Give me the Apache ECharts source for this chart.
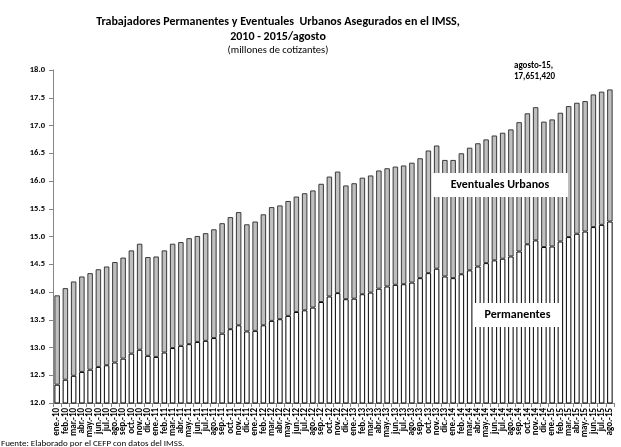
<!DOCTYPE html>
<html>
<head>
<meta charset="utf-8">
<script src="https://cdn.jsdelivr.net/npm/echarts@6/dist/echarts.min.js"></script>
<style>
  html, body { margin: 0; padding: 0; background: #fff; }
  #chart { width: 621px; height: 447px; }
</style>
</head>
<body>
<div id="chart"></div>
<script>
// meses ene-10 .. ago-15
const months = [
  'ene.-10', 'feb.-10', 'mar.-10', 'abr.-10', 'may.-10', 'jun.-10', 'jul.-10', 'ago.-10', 'sep.-10', 'oct.-10', 'nov.-10', 'dic.-10',
  'ene.-11', 'feb.-11', 'mar.-11', 'abr.-11', 'may.-11', 'jun.-11', 'jul.-11', 'ago.-11', 'sep.-11', 'oct.-11', 'nov.-11', 'dic.-11',
  'ene.-12', 'feb.-12', 'mar.-12', 'abr.-12', 'may.-12', 'jun.-12', 'jul.-12', 'ago.-12', 'sep.-12', 'oct.-12', 'nov.-12', 'dic.-12',
  'ene.-13', 'feb.-13', 'mar.-13', 'abr.-13', 'may.-13', 'jun.-13', 'jul.-13', 'ago.-13', 'sep.-13', 'oct.-13', 'nov.-13', 'dic.-13',
  'ene.-14', 'feb.-14', 'mar.-14', 'abr.-14', 'may.-14', 'jun.-14', 'jul.-14', 'ago.-14', 'sep.-14', 'oct.-14', 'nov.-14', 'dic.-14',
  'ene.-15', 'feb.-15', 'mar.-15', 'abr.-15', 'may.-15', 'jun.-15', 'jul.-15', 'ago.-15'
];

// millones de cotizantes
const permanentes = [
  12.33, 12.42, 12.49, 12.56, 12.60, 12.65, 12.68, 12.73, 12.80, 12.89, 12.96, 12.85,
  12.83, 12.91, 12.99, 13.03, 13.06, 13.10, 13.12, 13.17, 13.25, 13.33, 13.40, 13.29,
  13.30, 13.40, 13.48, 13.51, 13.57, 13.64, 13.67, 13.72, 13.82, 13.92, 13.98, 13.87,
  13.88, 13.96, 13.99, 14.06, 14.10, 14.13, 14.14, 14.17, 14.25, 14.34, 14.42, 14.28,
  14.25, 14.32, 14.39, 14.46, 14.52, 14.57, 14.60, 14.64, 14.73, 14.86, 14.93, 14.81,
  14.82, 14.91, 14.99, 15.05, 15.09, 15.17, 15.21, 15.27
];

const eventuales = [
  1.61, 1.65, 1.70, 1.72, 1.74, 1.76, 1.78, 1.81, 1.82, 1.86, 1.91, 1.78,
  1.81, 1.84, 1.88, 1.87, 1.91, 1.91, 1.94, 1.96, 1.99, 2.02, 2.04, 1.93,
  1.97, 2.00, 2.05, 2.05, 2.07, 2.08, 2.11, 2.11, 2.13, 2.16, 2.19, 2.05,
  2.08, 2.10, 2.11, 2.13, 2.13, 2.13, 2.14, 2.16, 2.16, 2.21, 2.22, 2.10,
  2.13, 2.18, 2.21, 2.22, 2.23, 2.25, 2.27, 2.29, 2.33, 2.36, 2.40, 2.26,
  2.29, 2.32, 2.36, 2.36, 2.35, 2.39, 2.40, 2.38
];

const yTicks = { min: 12, max: 18, interval: 0.5 };

const font = 'Carlito, "Liberation Sans", Arial, sans-serif';

const chart = echarts.init(document.getElementById('chart'));

const option = {
  backgroundColor: '#fff',
  animation: false,
  textStyle: { fontFamily: font },
  title: [
    {
      text: 'Trabajadores Permanentes y Eventuales  Urbanos Asegurados en el IMSS,\n2010 - 2015/agosto',
      left: 273,
      top: 9,
      textAlign: 'center',
      textStyle: { fontSize: 12, fontWeight: 'bold', color: '#000', lineHeight: 15, fontFamily: font }
    },
    {
      text: '(millones de cotizantes)',
      left: 273,
      top: 40,
      textAlign: 'center',
      textStyle: { fontSize: 10.5, fontWeight: 'normal', color: '#000', fontFamily: font }
    }
  ],
  grid: { left: 53, right: 7, top: 70, bottom: 44, containLabel: false },
  xAxis: {
    type: 'category',
    data: months,
    axisLine: { lineStyle: { color: '#868686', width: 1 } },
    axisTick: { show: true, length: 4, lineStyle: { color: '#868686' } },
    axisLabel: {
      interval: 0,
      rotate: 90,
      margin: 5,
      fontSize: 9,
      fontWeight: 'bold',
      color: '#000',
      fontFamily: font
    }
  },
  yAxis: {
    type: 'value',
    min: yTicks.min,
    max: yTicks.max,
    interval: yTicks.interval,
    axisLine: { show: true, lineStyle: { color: '#868686', width: 1 } },
    axisTick: { show: true, length: 4, lineStyle: { color: '#868686' } },
    splitLine: { show: false },
    axisLabel: {
      fontSize: 8.5,
      fontWeight: 'bold',
      color: '#000',
      margin: 8,
      fontFamily: font,
      formatter: v => v.toFixed(1)
    }
  },
  series: [
    {
      name: 'Permanentes',
      type: 'bar',
      stack: 'total',
      data: permanentes,
      barWidth: 5.5,
      itemStyle: { color: '#fff', borderColor: '#000', borderWidth: 1 }
    },
    {
      name: 'Eventuales Urbanos',
      type: 'bar',
      stack: 'total',
      data: eventuales,
      barWidth: 5.5,
      itemStyle: { color: '#bfbfbf', borderColor: '#3a3a3a', borderWidth: 1 }
    }
  ],
  graphic: [
    {
      type: 'group',
      left: 432,
      top: 173,
      z: 100,
      children: [
        { type: 'rect', z: 100, shape: { x: 0, y: 0, width: 136, height: 24 }, style: { fill: '#fff' } },
        {
          type: 'text', z: 101,
          x: 68, y: 12,
          style: {
            text: 'Eventuales Urbanos', fill: '#000', font: 'bold 12px ' + font,
            textAlign: 'center', textVerticalAlign: 'middle'
          }
        }
      ]
    },
    {
      type: 'group',
      left: 473,
      top: 303,
      z: 100,
      children: [
        { type: 'rect', z: 100, shape: { x: 0, y: 0, width: 89, height: 24 }, style: { fill: '#fff' } },
        {
          type: 'text', z: 101,
          x: 44.5, y: 12,
          style: {
            text: 'Permanentes', fill: '#000', font: 'bold 12px ' + font,
            textAlign: 'center', textVerticalAlign: 'middle'
          }
        }
      ]
    },
    {
      type: 'text',
      left: 514,
      top: 60,
      z: 100,
      style: { text: 'agosto-15,\n17,651,420', fill: '#000', font: 'bold 9px ' + font, lineHeight: 11, textAlign: 'left' }
    },
    {
      type: 'text',
      left: 1,
      top: 439,
      style: { text: 'Fuente: Elaborado por el CEFP con datos del IMSS.', fill: '#000', font: '9px ' + font }
    }
  ]
};

chart.setOption(option);
</script>
</body>
</html>
